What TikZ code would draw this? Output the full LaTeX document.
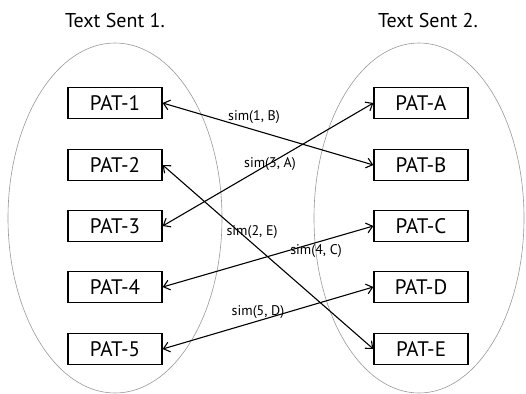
\documentclass[tikz,border=0pt]{standalone}
\usepackage{fontspec}
\setmainfont{PT Sans}
\usetikzlibrary{arrows.meta}
\begin{document}
\begin{tikzpicture}[x=1pt,y=-1pt,
  patbox/.style={draw,line width=1.3pt,minimum width=94pt,minimum height=31pt,inner sep=0pt,font=\fontsize{21}{21}\selectfont},
  title/.style={font=\fontsize{20}{20}\selectfont},
  setell/.style={draw=gray!80,line width=0.6pt},
  link/.style={line width=1.1pt,{Straight Barb[length=6pt,width=10pt]}-{Straight Barb[length=6pt,width=10pt]}},
  simlab/.style={font=\fontsize{14}{14}\selectfont,inner sep=0pt}]
\useasboundingbox (0,0) rectangle (526,393);
\draw[setell] (115,218) ellipse [x radius=107,y radius=175];
\draw[setell] (419,218) ellipse [x radius=105,y radius=175];
\node[title] (t1) at (115,21) {Text Sent 1.};
\node[title] (t2) at (428,21) {Text Sent 2.};
\node[patbox] (p1) at (115,103) {PAT-1};
\node[patbox] (p2) at (115,165) {PAT-2};
\node[patbox] (p3) at (115,226) {PAT-3};
\node[patbox] (p4) at (115,287) {PAT-4};
\node[patbox] (p5) at (115,349) {PAT-5};
\node[patbox] (pa) at (421,103) {PAT-A};
\node[patbox] (pb) at (421,165) {PAT-B};
\node[patbox] (pc) at (421,226) {PAT-C};
\node[patbox] (pd) at (421,287) {PAT-D};
\node[patbox] (pe) at (421,349) {PAT-E};
\draw[link] (p1.east) -- (pb.west);
\draw[link] (p3.east) -- (pa.west);
\draw[link] (p2.east) -- (pe.west);
\draw[link] (p4.east) -- (pc.west);
\draw[link] (p5.east) -- (pd.west);
\node[simlab] (s1) at (254,117) {sim(1, B)};
\node[simlab] (s3) at (270,164) {sim(3, A)};
\node[simlab] (s2) at (252,232) {sim(2, E)};
\node[simlab] (s4) at (316,251) {sim(4, C)};
\node[simlab] (s5) at (258,312) {sim(5, D)};
\end{tikzpicture}
\end{document}
